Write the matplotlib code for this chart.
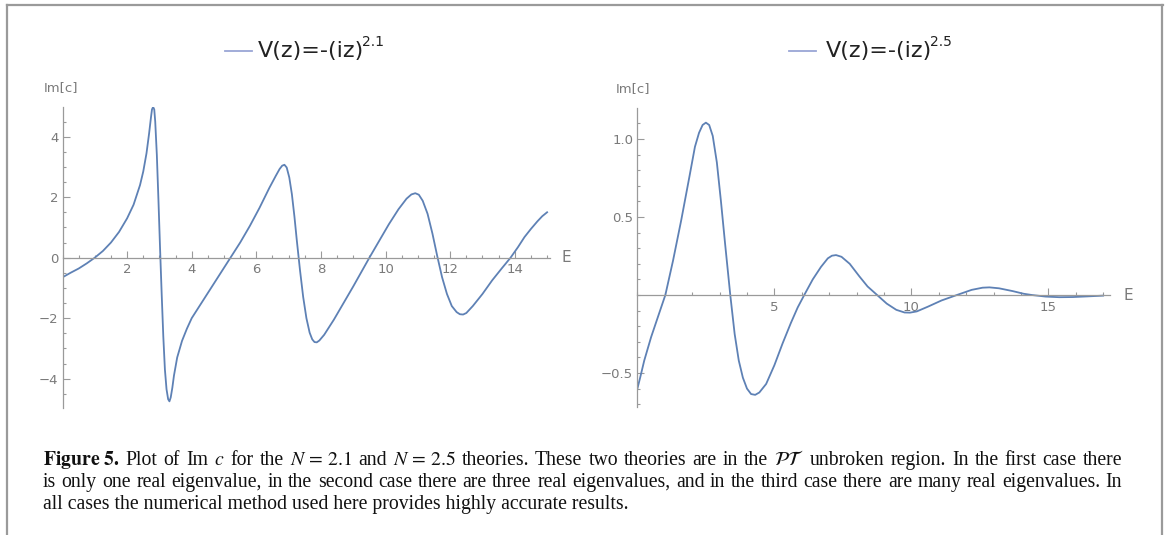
import matplotlib
matplotlib.use("Agg")
from matplotlib import pyplot as plt
from matplotlib.lines import Line2D
from matplotlib.ticker import MultipleLocator

# Im[c] versus E for V(z) = -(iz)^2.1
e_21 = [0.0, 0.25, 0.5, 0.75, 1.0, 1.25, 1.5, 1.75, 2.0, 2.2, 2.4, 2.5, 2.6, 2.68,
        2.74, 2.77, 2.805, 2.84, 2.87, 2.92, 2.97, 3.02, 3.07, 3.12, 3.17, 3.22, 3.27,
        3.31, 3.35, 3.4, 3.45, 3.55, 3.7, 3.85, 4.0, 4.3, 4.6, 4.9, 5.2, 5.5, 5.8, 6.1,
        6.4, 6.6, 6.72, 6.8, 6.87, 6.94, 7.02, 7.1, 7.18, 7.25, 7.35, 7.45, 7.55, 7.65,
        7.73, 7.8, 7.87, 7.95, 8.1, 8.4, 8.7, 9.0, 9.3, 9.5, 9.8, 10.1, 10.4, 10.65,
        10.8, 10.92, 11.03, 11.15, 11.3, 11.45, 11.6, 11.75, 11.9, 12.05, 12.2, 12.3,
        12.4, 12.5, 12.7, 13.0, 13.3, 13.6, 13.87, 14.1, 14.3, 14.5, 14.7, 14.85, 15.0]
im_21 = [-0.65, -0.5, -0.36, -0.19, 0.0, 0.22, 0.5, 0.85, 1.3, 1.75, 2.4, 2.85, 3.45, 4.1,
         4.65, 4.9, 4.98, 4.9, 4.5, 3.4, 1.9, 0.3, -1.2, -2.6, -3.7, -4.35, -4.68,
         -4.75, -4.62, -4.3, -3.9, -3.3, -2.75, -2.35, -2.0, -1.5, -1.0, -0.5, 0.0, 0.5, 1.05,
         1.65, 2.3, 2.7, 2.93, 3.04, 3.07, 2.98, 2.65, 2.1, 1.35, 0.6, -0.4, -1.3, -2.0, -2.48,
         -2.7, -2.79, -2.8, -2.74, -2.55, -2.05, -1.5, -0.95, -0.38, 0.0, 0.55, 1.1, 1.6, 1.95,
         2.09, 2.13, 2.08, 1.88, 1.45, 0.8, 0.05, -0.65, -1.2, -1.6, -1.8, -1.87, -1.88,
         -1.83, -1.6, -1.2, -0.75, -0.35, 0.0, 0.35, 0.68, 0.95, 1.2, 1.37, 1.5]

# Im[c] versus E for V(z) = -(iz)^2.5
e_25 = [0.0, 0.1, 0.25, 0.5, 0.75, 1.02, 1.3, 1.6, 1.9, 2.1, 2.25, 2.38, 2.5, 2.62, 2.75,
        2.9, 3.05, 3.2, 3.39, 3.55, 3.7, 3.85, 4.0, 4.15, 4.3, 4.45, 4.7, 5.0, 5.3, 5.6,
        5.85, 6.09, 6.4, 6.7, 6.95, 7.1, 7.25, 7.45, 7.75, 8.1, 8.4, 8.75, 9.1, 9.45, 9.75,
        9.95, 10.2, 10.6, 11.1, 11.66, 12.2, 12.6, 12.85, 13.2, 13.7, 14.1, 14.4, 14.9,
        15.4, 15.9, 16.4, 17.0]
im_25 = [-0.6, -0.53, -0.42, -0.27, -0.14, 0.0, 0.22, 0.48, 0.76, 0.95, 1.04, 1.09, 1.105,
         1.09, 1.02, 0.85, 0.6, 0.33, 0.0, -0.25, -0.42, -0.53, -0.6, -0.635, -0.64,
         -0.625, -0.57, -0.45, -0.31, -0.18, -0.08, 0.0, 0.1, 0.18, 0.235, 0.252, 0.256,
         0.245, 0.2, 0.12, 0.055, 0.0, -0.055, -0.095, -0.112, -0.113, -0.105, -0.075,
         -0.035, 0.0, 0.033, 0.047, 0.049, 0.043, 0.025, 0.008, 0.0, -0.01, -0.014, -0.013,
         -0.009, -0.004]

legend_21 = "V(z)=-(iz)"
legend_25 = "V(z)=-(iz)"
power_21 = "2.1"
power_25 = "2.5"

xticks_21 = [2, 4, 6, 8, 10, 12, 14]
yticks_21 = [-4, -2, 0, 2, 4]
xticks_25 = [5, 10, 15]
yticks_25 = [-0.5, 0.5, 1.0]

caption_lines = [
    r"$\mathbf{Figure\ 5.}$ Plot of Im $c$ for the $N\,=\,2.1$ and $N\,=\,2.5$ theories. These two theories are in the $\mathcal{PT}$ unbroken region. In the first case there",
    "is only one real eigenvalue, in the second case there are three real eigenvalues, and in the third case there are many real eigenvalues. In",
    "all cases the numerical method used here provides highly accurate results.",
]

W, H = 1170, 535
LINE = "#5E81B5"
AXC = "#9a9a9a"
TXT = "#7a7a7a"

plt.rcParams['font.family'] = ['DejaVu Sans']

fig = plt.figure(figsize=(W / 100, H / 100), dpi=100)


def px(x, y):
    return x / W, 1 - y / H


def make_axes(x0, x1, ytop, ybot, xlim, ylim):
    ax = fig.add_axes([x0 / W, 1 - ybot / H, (x1 - x0) / W, (ybot - ytop) / H])
    ax.set_xlim(*xlim)
    ax.set_ylim(*ylim)
    for s in ['top', 'right']:
        ax.spines[s].set_visible(False)
    ax.spines['bottom'].set_position(('data', 0))
    for s in ['left', 'bottom']:
        ax.spines[s].set_color(AXC)
        ax.spines[s].set_linewidth(0.9)
    ax.patch.set_alpha(0)
    ax.tick_params(which='both', direction='in', color=AXC, width=0.8,
                   labelcolor=TXT, labelsize=9.5)
    ax.tick_params(which='major', length=5)
    ax.tick_params(which='minor', length=2.5)
    ax.tick_params(axis='x', pad=4)
    ax.tick_params(axis='y', pad=3)
    return ax


def fmt(v):
    return ("%g" % v).replace("-", "\u2212")


# left panel
ax1 = make_axes(62.5, 550, 107, 408, (0, 15.09), (-4.97, 4.98))
ax1.plot(e_21, im_21, color=LINE, lw=1.3)
ax1.xaxis.set_minor_locator(MultipleLocator(0.5))
ax1.yaxis.set_minor_locator(MultipleLocator(0.5))
ax1.set_xticks(xticks_21)
ax1.set_xticklabels([fmt(v) for v in xticks_21])
ax1.set_yticks(yticks_21)
ax1.set_yticklabels([fmt(v) for v in yticks_21])

# right panel
ax2 = make_axes(637.4, 1110, 108.3, 406.7, (0, 17.25), (-0.716, 1.197))
ax2.plot(e_25, im_25, color=LINE, lw=1.3)
ax2.set_xticks(xticks_25)
ax2.set_xticklabels([fmt(v) for v in xticks_25])
ax2.xaxis.set_minor_locator(MultipleLocator(1))
ax2.set_yticks(yticks_25)
ax2.set_yticklabels([fmt(v) if v != 1.0 else "1.0" for v in yticks_25])
ax2.yaxis.set_minor_locator(MultipleLocator(0.1))

# axis names
for (x, y) in [(61, 88), (633, 89)]:
    fig.text(*px(x, y), "Im[c]", color=TXT, fontsize=9.5, ha='center', va='center')
for (x, y) in [(566.7, 258), (1128.3, 295)]:
    fig.text(*px(x, y), "E", color=TXT, fontsize=11, ha='center', va='center')

# legends
fig.canvas.draw()
renderer = fig.canvas.get_renderer()
for (lx, tx, lab, pw) in [(225, 258, legend_21, power_21), (789, 826, legend_25, power_25)]:
    fig.add_artist(Line2D([lx / W, (lx + 27) / W], [1 - 51 / H] * 2,
                          color="#9aa6d6", lw=1.3, transform=fig.transFigure))
    t = fig.text(*px(tx, 51), lab, color="#222222", fontsize=16, ha='left', va='center')
    bb = t.get_window_extent(renderer)
    fig.text((bb.x1 - 2) / W, 1 - 42 / H, pw, color="#222222", fontsize=10,
             ha='left', va='center')

# caption, justified like the original
left_px, right_px = 43, 1122
base_size = 12.6
probe = fig.text(0, 0, caption_lines[1], fontsize=base_size, family='Liberation Serif')
cap_size = base_size * (right_px - left_px) / probe.get_window_extent(renderer).width * 0.99
probe.remove()
cap_kw = dict(fontsize=cap_size, family='Liberation Serif', math_fontfamily='stix',
              color='#111111', va='baseline', ha='left')
baselines = [465, 487, 509]
for i, line in enumerate(caption_lines):
    yb = 1 - baselines[i] / H
    if i == len(caption_lines) - 1:
        fig.text(left_px / W, yb, line, **cap_kw)
        continue
    # split on spaces outside math
    words, cur, inmath = [], "", False
    for ch in line:
        if ch == "$":
            inmath = not inmath
        if ch == " " and not inmath:
            words.append(cur)
            cur = ""
        else:
            cur += ch
    words.append(cur)
    texts = [fig.text(0, yb, w, **cap_kw) for w in words]
    widths = [t.get_window_extent(renderer).width for t in texts]
    gap = (right_px - left_px - sum(widths)) / (len(words) - 1)
    x = left_px
    for t, w in zip(texts, widths):
        t.set_x(x / W)
        x += w + gap

# frame of the screenshot
fc = "#9a9a9a"
fig.add_artist(Line2D([7 / W, 1163 / W], [1 - 5 / H] * 2, color=fc, lw=1.6,
                      transform=fig.transFigure))
fig.add_artist(Line2D([7 / W] * 2, [0, 1 - 5 / H], color=fc, lw=1.6,
                      transform=fig.transFigure))
fig.add_artist(Line2D([1162 / W] * 2, [0, 1 - 5 / H], color=fc, lw=1.6,
                      transform=fig.transFigure))

fig.savefig("out.png", dpi=100, facecolor="white")
